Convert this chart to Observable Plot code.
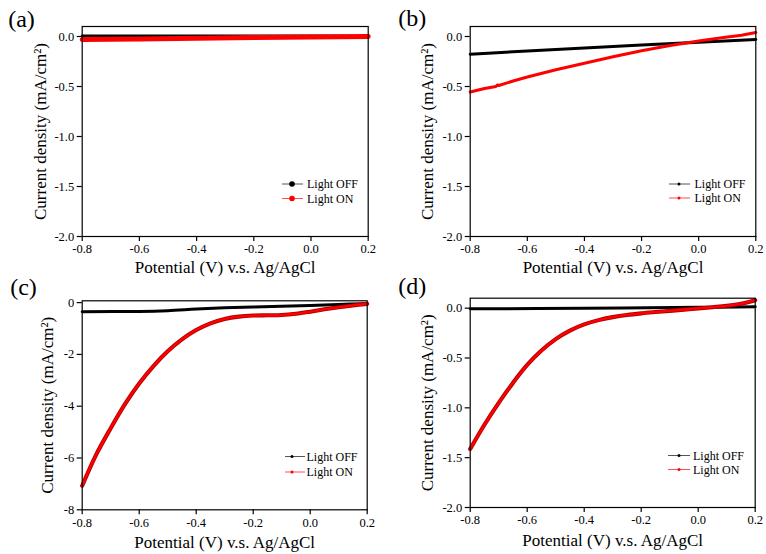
<!DOCTYPE html>
<html><head><meta charset="utf-8">
<script src="https://cdn.jsdelivr.net/npm/d3@7"></script>
<script src="https://cdn.jsdelivr.net/npm/@observablehq/plot@0.6"></script>
<style>
html,body{margin:0;padding:0;background:#fff;}
#wrap{position:relative;width:766px;height:554px;overflow:hidden;font-family:"Liberation Serif","Times New Roman",serif;}
.panel{position:absolute;}
</style></head><body><div id="wrap"></div>
<script>
// ---------------- data ----------------
const xTicks = [-0.8, -0.6, -0.4, -0.2, 0.0, 0.2];
const yTicksSmall = [0.0, -0.5, -1.0, -1.5, -2.0];
const yTicksC = [0, -2, -4, -6, -8];
const panelTags = ["(a)", "(b)", "(c)", "(d)"];
const seriesNames = ["Light OFF", "Light ON"];
const xTitle = "Potential (V) v.s. Ag/AgCl";
const yTitle = "Current density (mA/cm²)";

// panel (a)
const aOffV = [-0.8, -0.6, -0.4, -0.2, 0.0, 0.2];
const aOffJ = [0.007, 0.007, 0.007, 0.006, 0.005, 0.004];
const aOnV = [-0.8, -0.6, -0.4, -0.2, 0.0, 0.2];
const aOnJ = [-0.03, -0.024, -0.017, -0.011, -0.005, 0.0];

// panel (b)
const bOffV = [-0.8, -0.6, -0.4, -0.2, 0.0, 0.2];
const bOffJ = [-0.177, -0.145, -0.115, -0.085, -0.057, -0.03];
const bOnV = [-0.8, -0.75, -0.71, -0.705, -0.7, -0.65, -0.6, -0.5, -0.4, -0.3, -0.2, -0.1, 0.0, 0.1, 0.13, 0.15, 0.2];
const bOnJ = [-0.555, -0.52, -0.5, -0.485, -0.49, -0.445, -0.405, -0.332, -0.267, -0.203, -0.143, -0.09, -0.045, -0.006, 0.006, 0.012, 0.04];

// panel (c)
const cOffV = [-0.8, -0.6, -0.5, -0.4, -0.3, -0.2, -0.1, 0.0, 0.1, 0.2];
const cOffJ = [-0.35, -0.34, -0.31, -0.25, -0.2, -0.17, -0.14, -0.11, -0.07, -0.04];
const cOnV = [-0.8, -0.75, -0.7, -0.65, -0.6, -0.55, -0.5, -0.45, -0.4, -0.35, -0.3, -0.25, -0.2, -0.15, -0.1, -0.05, 0.0, 0.05, 0.1, 0.15, 0.2];
const cOnJ = [-7.07, -5.85, -4.85, -3.92, -3.12, -2.45, -1.88, -1.42, -1.06, -0.8, -0.63, -0.54, -0.5, -0.49, -0.48, -0.43, -0.35, -0.26, -0.18, -0.11, -0.05];

// panel (d)
const dOffV = [-0.8, -0.4, 0.0, 0.2];
const dOffJ = [-0.007, 0.0, 0.008, 0.013];
const dOnV = [-0.8, -0.75, -0.7, -0.65, -0.6, -0.55, -0.5, -0.45, -0.4, -0.35, -0.3, -0.25, -0.2, -0.15, -0.1, -0.05, 0.0, 0.05, 0.1, 0.15, 0.2];
const dOnJ = [-1.413, -1.17, -0.95, -0.75, -0.57, -0.425, -0.31, -0.225, -0.163, -0.12, -0.09, -0.068, -0.052, -0.039, -0.027, -0.015, -0.003, 0.01, 0.024, 0.045, 0.08];

// ---------------- layout ----------------
const toRows = (V, J) => V.map((v, i) => ({v, j: J[i]}));
const panels = [
  {left:0, top:0, ml:81.7, mr:15.3, mt:26, mb:41, yDomain:[-2, 0.1], yTicks:yTicksSmall, yFmt:d=>d.toFixed(1),
   off:toRows(aOffV,aOffJ), on:toRows(aOnV,aOnJ), offW:2.8, onW:5, dark:false, curve:"linear", xtDy:31, ytDx:-42, tagDx:-74, tagDy:-7,
   leg:{x0:282, x1:303, xd:292, xt:307, yOff:184, yOn:198.5, r:2.8}},
  {left:383, top:0, ml:86.7, mr:10.7, mt:26, mb:41, yDomain:[-2, 0.1], yTicks:yTicksSmall, yFmt:d=>d.toFixed(1),
   off:toRows(bOffV,bOffJ), on:toRows(bOnV,bOnJ), offW:3, onW:3, dark:false, curve:"linear", xtDy:31, ytDx:-43, tagDx:-72, tagDy:-8.5,
   leg:{x0:669, x1:690, xd:679, xt:694.5, yOff:184, yOn:198, r:1.5}},
  {left:0, top:277, ml:81.7, mr:16.3, mt:23.3, mb:44.7, yDomain:[-8, 0.07], yTicks:yTicksC, yFmt:d=>String(d),
   off:toRows(cOffV,cOffJ), on:toRows(cOnV,cOnJ), offW:3, onW:3.2, dark:true, curve:"catmull-rom", xtDy:33, ytDx:-35, tagDx:-72, tagDy:-13,
   leg:{x0:285, x1:305, xd:292, xt:306.5, yOff:456.5, yOn:472, r:1.5}},
  {left:383, top:277, ml:86.7, mr:11.3, mt:20.7, mb:47, yDomain:[-2, 0.1], yTicks:yTicksSmall, yFmt:d=>d.toFixed(1),
   off:toRows(dOffV,dOffJ), on:toRows(dOnV,dOnJ), offW:3, onW:3.2, dark:true, curve:"catmull-rom", xtDy:33, ytDx:-43, tagDx:-72, tagDy:-12,
   leg:{x0:668, x1:690, xd:679, xt:693, yOff:455.5, yOn:469.5, r:1.5}}
];

const wrap = document.getElementById("wrap");

panels.forEach((p, k) => {
  const redMarks = p.dark
    ? [Plot.line(p.on, {x:"v", y:"j", stroke:"#b00000", strokeWidth:p.onW + 0.9, curve:p.curve}),
       Plot.line(p.on, {x:"v", y:"j", stroke:"#ff0000", strokeWidth:p.onW - 0.9, curve:p.curve})]
    : [Plot.line(p.on, {x:"v", y:"j", stroke:"#ff0000", strokeWidth:p.onW, curve:p.curve})];
  const offMark = Plot.line(p.off, {x:"v", y:"j", stroke:"#000", strokeWidth:p.offW, curve:p.curve});
  const chart = Plot.plot({
    width:383, height:277,
    marginLeft:p.ml, marginRight:p.mr, marginTop:p.mt, marginBottom:p.mb,
    x:{domain:[-0.8, 0.2]},
    y:{domain:p.yDomain},
    style:{fontFamily:"'Liberation Serif','Times New Roman',serif", fontSize:"12.5px", color:"#000", background:"transparent", overflow:"visible"},
    marks:[
      Plot.axisX({ticks:xTicks, tickFormat:d=>d.toFixed(1), tickSize:5, tickPadding:3, label:null, strokeWidth:1.2}),
      Plot.axisY({ticks:p.yTicks, tickFormat:p.yFmt, tickSize:5, tickPadding:3, label:null, strokeWidth:1.2}),
      offMark,
      ...redMarks,
      Plot.frame({stroke:"#000", strokeWidth:1.2}),
      Plot.text([xTitle], {text:d=>d, frameAnchor:"bottom", lineAnchor:"middle", dy:p.xtDy, fontSize:17}),
      Plot.text([yTitle], {text:d=>d, frameAnchor:"left", rotate:-90, textAnchor:"middle", lineAnchor:"middle", dx:p.ytDx, fontSize:17}),
      Plot.text([panelTags[k]], {text:d=>d, frameAnchor:"top-left", textAnchor:"start", lineAnchor:"middle", dx:p.tagDx, dy:p.tagDy, fontSize:24})
    ]
  });
  const div = document.createElement("div");
  div.className = "panel";
  div.style.left = p.left + "px";
  div.style.top = p.top + "px";
  div.appendChild(chart);
  wrap.appendChild(div);
});

// legends overlay
const ov = d3.select(wrap).append("svg")
  .attr("width", 766).attr("height", 554)
  .style("position", "absolute").style("left", 0).style("top", 0)
  .style("pointer-events", "none");
panels.forEach(p => {
  const L = p.leg;
  [[seriesNames[0], L.yOff, "#000", "#555"], [seriesNames[1], L.yOn, "#ff0000", "#ff5050"]].forEach(([name, y, c, lc]) => {
    ov.append("line").attr("x1", L.x0).attr("x2", L.x1).attr("y1", y).attr("y2", y).attr("stroke", lc).attr("stroke-width", 1);
    ov.append("circle").attr("cx", L.xd).attr("cy", y).attr("r", L.r).attr("fill", c);
    ov.append("text").attr("x", L.xt).attr("y", y).attr("dy", "0.35em")
      .attr("font-family", "'Liberation Serif','Times New Roman',serif").attr("font-size", 12).attr("fill", "#000").text(name);
  });
});
</script>
</body></html>
